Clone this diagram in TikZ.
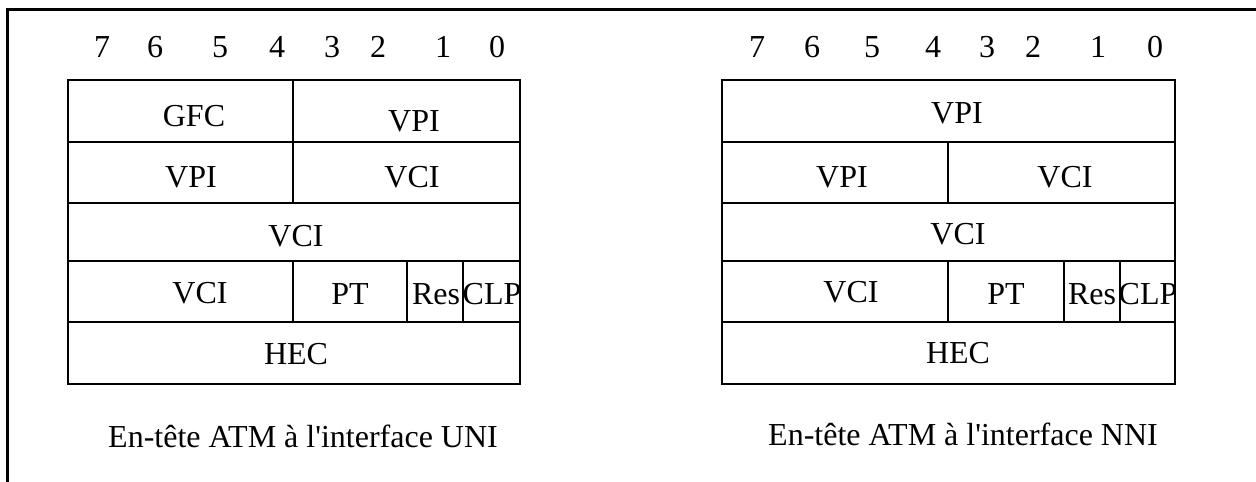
\documentclass[tikz,border=0pt]{standalone}
\usepackage{fontspec}
\newfontfamily\tnr{Liberation Serif}
\begin{document}
\begin{tikzpicture}[x=1pt,y=-1pt,
  lbl/.style={inner sep=0pt,font=\tnr\fontsize{32}{35}\selectfont},
  grid/.style={line width=2.8pt},
  frame/.style={line width=3pt}]
\useasboundingbox (0,0) rectangle (1256,482);
% outer frame (top and left only)
\draw[frame] (1256,9) -- (7,9) -- (7,482);
% ---------- left table (UNI) ----------
\draw[grid] (68,80) rectangle (520,384);
\draw[grid] (68,142) -- (520,142);
\draw[grid] (68,203) -- (520,203);
\draw[grid] (68,261) -- (520,261);
\draw[grid] (68,322) -- (520,322);
\draw[grid] (293,80) -- (293,203);
\draw[grid] (293,261) -- (293,322);
\draw[grid] (407,261) -- (407,322);
\draw[grid] (463,261) -- (463,322);
% bit numbers
\foreach \n/\x in {7/102,6/155,5/220,4/277,3/332,2/378,1/443,0/497}
  \node[lbl] (lb\n) at (\x,47) {\n};
\node[lbl] (lgfc) at (194,116) {GFC};
\node[lbl] (lvpi1) at (414,121) {VPI};
\node[lbl] (lvpi2) at (191,177) {VPI};
\node[lbl] (lvci2) at (412,177) {VCI};
\node[lbl] (lvci3) at (296,236) {VCI};
\node[lbl] (lvci4) at (200,293) {VCI};
\node[lbl] (lpt) at (350,294) {PT};
\node[lbl] (lres) at (436,294) {Res};
\node[lbl] (lclp) at (492,294) {CLP};
\node[lbl] (lhec) at (296,354) {HEC};
\node[lbl] (lcap) at (303,436) {En-tête ATM à l'interface UNI};
% ---------- right table (NNI) ----------
\draw[grid] (722,80) rectangle (1175,384);
\draw[grid] (722,142) -- (1175,142);
\draw[grid] (722,203) -- (1175,203);
\draw[grid] (722,261) -- (1175,261);
\draw[grid] (722,322) -- (1175,322);
\draw[grid] (948,142) -- (948,203);
\draw[grid] (948,261) -- (948,322);
\draw[grid] (1064,261) -- (1064,322);
\draw[grid] (1120,261) -- (1120,322);
\foreach \n/\x in {7/757,6/812,5/872,4/933,3/987,2/1033,1/1098,0/1155}
  \node[lbl] (rb\n) at (\x,47) {\n};
\node[lbl] (rvpi1) at (957,113) {VPI};
\node[lbl] (rvpi2) at (842,177) {VPI};
\node[lbl] (rvci2) at (1065,177) {VCI};
\node[lbl] (rvci3) at (958,234) {VCI};
\node[lbl] (rvci4) at (851,292) {VCI};
\node[lbl] (rpt) at (1006,294) {PT};
\node[lbl] (rres) at (1092,294) {Res};
\node[lbl] (rclp) at (1148,294) {CLP};
\node[lbl] (rhec) at (958,353) {HEC};
\node[lbl] (rcap) at (963,434) {En-tête ATM à l'interface NNI};
\end{tikzpicture}
\end{document}
